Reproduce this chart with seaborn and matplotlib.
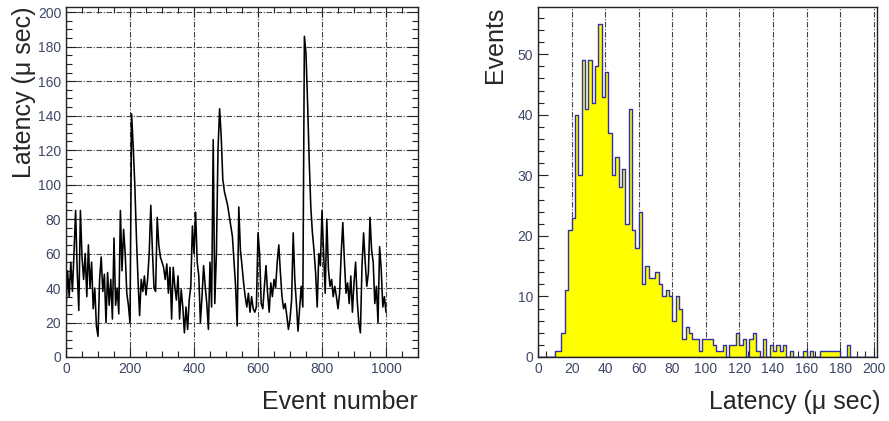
import numpy as np
import pandas as pd
import matplotlib
matplotlib.use("Agg")
import matplotlib.pyplot as plt
from matplotlib.ticker import MultipleLocator
import seaborn as sns

# latency read every 5 events (event 0 ... 1000)
event_step = 5
latency_us = [
    27, 50, 35, 55, 38, 60, 85, 50, 27, 85,
    58, 45, 60, 35, 65, 40, 55, 28, 40, 18,
    12, 45, 58, 38, 48, 20, 49, 30, 45, 22,
    69, 30, 40, 25, 85, 50, 74, 60, 37, 30,
    20, 141, 122, 100, 70, 45, 24, 45, 38, 47,
    36, 45, 60, 88, 62, 40, 38, 81, 65, 58,
    55, 52, 45, 54, 37, 52, 22, 52, 41, 33,
    47, 22, 39, 29, 14, 29, 16, 33, 41, 76,
    60, 84, 55, 47, 20, 35, 53, 41, 31, 16,
    55, 29, 126, 31, 60, 120, 144, 128, 103, 96,
    92, 88, 82, 76, 70, 55, 41, 18, 87, 62,
    53, 43, 35, 29, 37, 26, 35, 28, 26, 29,
    72, 60, 31, 28, 41, 53, 37, 26, 43, 35,
    45, 40, 55, 65, 49, 35, 28, 31, 24, 16,
    22, 33, 72, 45, 31, 15, 28, 41, 29, 186,
    176, 147, 114, 87, 72, 62, 49, 29, 60, 53,
    85, 60, 37, 80, 51, 41, 45, 35, 41, 35,
    28, 37, 60, 78, 56, 37, 43, 31, 47, 26,
    43, 55, 33, 20, 14, 53, 72, 55, 41, 49,
    81, 62, 55, 31, 41, 20, 64, 51, 29, 35,
    26,
]

# histogram of latency, 2 us bins from 0 to 200
bin_width = 2
hist_counts = [
    0, 0, 0, 0, 0, 1, 1, 4, 11, 21,
    23, 40, 30, 49, 41, 49, 42, 48, 55, 43,
    47, 37, 30, 33, 28, 31, 22, 41, 21, 18,
    24, 12, 15, 13, 13, 14, 12, 10, 11, 10,
    6, 10, 8, 3, 5, 4, 3, 3, 1, 3,
    3, 3, 2, 1, 1, 2, 0, 2, 2, 4,
    2, 3, 0, 3, 4, 1, 0, 3, 0, 2,
    1, 2, 1, 2, 0, 1, 0, 0, 0, 1,
    0, 1, 0, 0, 1, 1, 1, 1, 1, 1,
    0, 0, 2, 0, 0, 0, 0, 0, 0, 0,
]

sns.set_style("ticks")
plt.rcParams['font.family'] = ['Liberation Sans', 'DejaVu Sans']
plt.rcParams['xtick.direction'] = 'in'
plt.rcParams['ytick.direction'] = 'in'

tick_color = '#3e4866'
grid_style = dict(color='#444444', linestyle=(0, (5, 1.5, 1, 1.5)), linewidth=0.8)

df_ts = pd.DataFrame({'event': np.arange(len(latency_us)) * event_step,
                      'latency': latency_us})
df_hist = pd.DataFrame({'latency': np.arange(len(hist_counts)) * bin_width + bin_width / 2,
                        'count': hist_counts})

fig = plt.figure(figsize=(8.89, 4.21), dpi=100)
ax1 = fig.add_axes([66 / 889, 64 / 421, 352 / 889, 350 / 421])
ax2 = fig.add_axes([538 / 889, 64 / 421, 339 / 889, 350 / 421])


def style_axis(ax):
    for s in ax.spines.values():
        s.set_linewidth(1.0)
        s.set_color('#222222')
    ax.tick_params(which='major', length=7, width=0.8, labelsize=10,
                   labelcolor=tick_color, color='#222222')
    ax.tick_params(which='minor', length=4, width=0.8, color='#222222')


# left: latency vs event number
sns.lineplot(data=df_ts, x='event', y='latency', color='black',
             linewidth=1.15, estimator=None, ax=ax1)
ax1.set_xlim(0, 1100)
ax1.set_ylim(0, 203)
ax1.xaxis.set_major_locator(MultipleLocator(200))
ax1.xaxis.set_minor_locator(MultipleLocator(50))
ax1.yaxis.set_major_locator(MultipleLocator(20))
ax1.yaxis.set_minor_locator(MultipleLocator(5))
ax1.grid(True, which='major', **grid_style)
style_axis(ax1)
ax1.tick_params(which='both', top=True, right=True)
ax1.set_xlabel('Event number', fontsize=18, loc='right')
ax1.set_ylabel('Latency (\u03bc sec)', fontsize=18, loc='top')
ax1.xaxis.set_label_coords(1.0, -0.095)
ax1.yaxis.set_label_coords(-0.085, 1.0)

# right: latency histogram
sns.histplot(data=df_hist, x='latency', weights='count',
             binwidth=bin_width, binrange=(0, 200),
             element='step', fill=True, color='#ffff00', edgecolor='#3030a8',
             linewidth=1.0, alpha=1, ax=ax2)
ax2.set_xlim(0, 202)
ax2.set_ylim(0, 57.8)
ax2.xaxis.set_major_locator(MultipleLocator(20))
ax2.xaxis.set_minor_locator(MultipleLocator(5))
ax2.yaxis.set_major_locator(MultipleLocator(10))
ax2.yaxis.set_minor_locator(MultipleLocator(2))
ax2.grid(True, axis='x', which='major', **grid_style)
ax2.set_axisbelow(True)
style_axis(ax2)
ax2.set_xlabel('Latency (\u03bc sec)', fontsize=18, loc='right')
ax2.set_ylabel('Events', fontsize=18, loc='top')
ax2.xaxis.set_label_coords(1.01, -0.095)
ax2.yaxis.set_label_coords(-0.09, 1.0)

fig.savefig('out.png', dpi=100)
